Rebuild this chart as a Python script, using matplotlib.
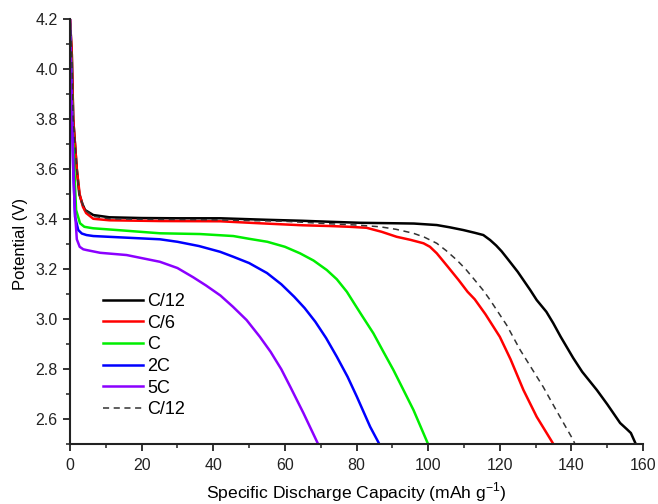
import matplotlib
matplotlib.use("Agg")
import matplotlib.pyplot as plt
from matplotlib.ticker import MultipleLocator, FormatStrFormatter

plt.rcParams['font.family'] = ['Liberation Sans', 'DejaVu Sans']
plt.rcParams['mathtext.fontset'] = 'custom'
plt.rcParams['mathtext.rm'] = 'Liberation Sans'

# C/12 (solid black)
c12_x = [0, 0.5, 0.9, 1.9, 2.6, 3.5, 4.2, 6.5, 11, 20, 30, 42, 55, 65, 72.6, 81, 91.2, 96, 102.4,
         106, 109.8, 113, 115.4, 117.3, 119, 120.5, 122, 125, 128.5, 130.3, 133, 134.9, 137, 140.5, 143,
         147.1, 150, 153.6, 155.5, 156.6, 158]
c12_v = [4.20, 4.06, 3.80, 3.60, 3.50, 3.46, 3.437, 3.417, 3.408, 3.405, 3.404, 3.404, 3.398, 3.394, 3.39, 3.386, 3.384, 3.383, 3.377,
         3.368, 3.357, 3.346, 3.337, 3.317, 3.295, 3.272, 3.245, 3.19, 3.117, 3.077, 3.03, 2.985, 2.93, 2.845, 2.79,
         2.717, 2.66, 2.585, 2.56, 2.545, 2.50]

# C/6 (red)
c6_x = [0, 0.5, 0.9, 1.9, 2.7, 3.6, 4.5, 6.5, 11, 25, 42, 53, 65, 72.6, 78, 82.8, 87, 91.2, 95, 98.7, 100.5,
        102.4, 105.5, 108.5, 111, 113, 116, 120, 123, 126.6, 130.3, 135]
c6_v = [4.20, 4.06, 3.80, 3.60, 3.50, 3.45, 3.425, 3.402, 3.396, 3.393, 3.392, 3.384, 3.376, 3.373, 3.37, 3.366, 3.35, 3.33, 3.318, 3.304, 3.29,
        3.264, 3.21, 3.157, 3.11, 3.08, 3.02, 2.93, 2.84, 2.717, 2.61, 2.50]

# C (green)
c1_x = [0, 0.4, 0.7, 1.2, 1.7, 2.8, 4.0, 5.6, 6.5, 15, 25.1, 36.3, 45.6, 50, 55.1, 60, 64.2, 68, 71.7,
        74.5, 77.3, 79.5, 81.5, 84.7, 87.5, 90.3, 93, 95.9, 100]
c1_v = [4.18, 4.00, 3.80, 3.60, 3.437, 3.384, 3.37, 3.366, 3.364, 3.355, 3.344, 3.341, 3.333, 3.322, 3.31, 3.29, 3.264, 3.235, 3.197,
        3.16, 3.11, 3.06, 3.015, 2.944, 2.87, 2.797, 2.72, 2.637, 2.50]

# 2C (blue)
c2_x = [0, 0.3, 0.6, 0.9, 1.4, 2.3, 3.3, 4.6, 6.5, 15, 25.1, 30, 36, 41.9, 45.6, 50, 55, 59, 62.6,
        65.5, 68.5, 71.5, 74.5, 77.5, 80.1, 83.8, 86.4]
c2_v = [4.15, 4.00, 3.80, 3.60, 3.41, 3.357, 3.343, 3.337, 3.333, 3.327, 3.32, 3.31, 3.293, 3.27, 3.25, 3.225, 3.185, 3.14, 3.09,
        3.045, 2.99, 2.925, 2.85, 2.77, 2.69, 2.57, 2.50]

# 5C (purple)
c5_x = [0, 0.3, 0.6, 0.9, 1.3, 1.9, 2.7, 3.7, 4.6, 8.4, 15.8, 25.1, 30, 34.4, 38, 42, 45.5, 49.3, 53,
        56, 59, 61.5, 65.2, 69.3]
c5_v = [4.20, 4.00, 3.80, 3.60, 3.45, 3.32, 3.29, 3.28, 3.277, 3.266, 3.257, 3.23, 3.205, 3.168, 3.135, 3.095, 3.05, 2.997, 2.93,
        2.87, 2.80, 2.73, 2.624, 2.50]

# C/12 (dashed)
d12_x = [0, 0.5, 0.9, 1.9, 2.6, 3.5, 4.2, 6.5, 11, 20, 40, 60, 72.6, 80, 86.6, 91, 95.9, 99, 102.4,
         105, 108, 110.5, 112.6, 115.3, 117.3, 121.9, 125.7, 132.1, 136, 140.5, 141]
d12_v = [4.20, 4.06, 3.80, 3.60, 3.50, 3.46, 3.437, 3.412, 3.402, 3.40, 3.398, 3.392, 3.382, 3.377, 3.37, 3.36, 3.344, 3.328, 3.304,
         3.275, 3.237, 3.20, 3.164, 3.117, 3.077, 2.977, 2.877, 2.73, 2.63, 2.517, 2.50]

labels = ['C/12', 'C/6', 'C', '2C', '5C', 'C/12']
colors = ['#000000', '#ff0000', '#00ee00', '#0000ff', '#8b00ff', '#333333']

fig = plt.figure(figsize=(6.58, 5.04), dpi=100)
ax = fig.add_axes([0.1064, 0.1185, 0.8709, 0.8432])

series = [(c12_x, c12_v), (c6_x, c6_v), (c1_x, c1_v), (c2_x, c2_v), (c5_x, c5_v)]
for (xs, vs), lab, col in zip(series, labels[:5], colors[:5]):
    ax.plot(xs, vs, color=col, lw=1.8, label=lab, solid_joinstyle='round')
ax.plot(d12_x, d12_v, color=colors[5], lw=1.1, ls=(0, (4, 3)), label=labels[5])

ax.set_xlim(0, 160)
ax.set_ylim(2.5, 4.2)
ax.xaxis.set_major_locator(MultipleLocator(20))
ax.xaxis.set_minor_locator(MultipleLocator(10))
ax.yaxis.set_major_locator(MultipleLocator(0.2))
ax.yaxis.set_minor_locator(MultipleLocator(0.1))
ax.yaxis.set_major_formatter(FormatStrFormatter('%.1f'))

for side in ['top', 'right']:
    ax.spines[side].set_visible(False)
for side in ['left', 'bottom']:
    ax.spines[side].set_linewidth(1.5)
    ax.spines[side].set_color('#222222')

ax.tick_params(which='major', direction='out', length=5, width=1.3, colors='#222222', labelsize=11.5)
ax.tick_params(which='minor', direction='out', length=3, width=1.1, colors='#222222')
ax.tick_params(axis='x', pad=5)
ax.tick_params(axis='y', pad=4)

ax.set_xlabel('Specific Discharge Capacity (mAh g$^{\\mathregular{-1}}$)', fontsize=12.6)
ax.set_ylabel('Potential (V)', fontsize=12)
ax.xaxis.set_label_coords(0.5, -0.085)
ax.yaxis.set_label_coords(-0.073, 0.471)

leg = ax.legend(loc='upper left', bbox_to_anchor=(0.058, 0.356), frameon=False,
                fontsize=13, handlelength=2.2, handletextpad=0.25, labelspacing=0.26,
                borderpad=0, borderaxespad=0)

fig.savefig('out.png', dpi=100)
